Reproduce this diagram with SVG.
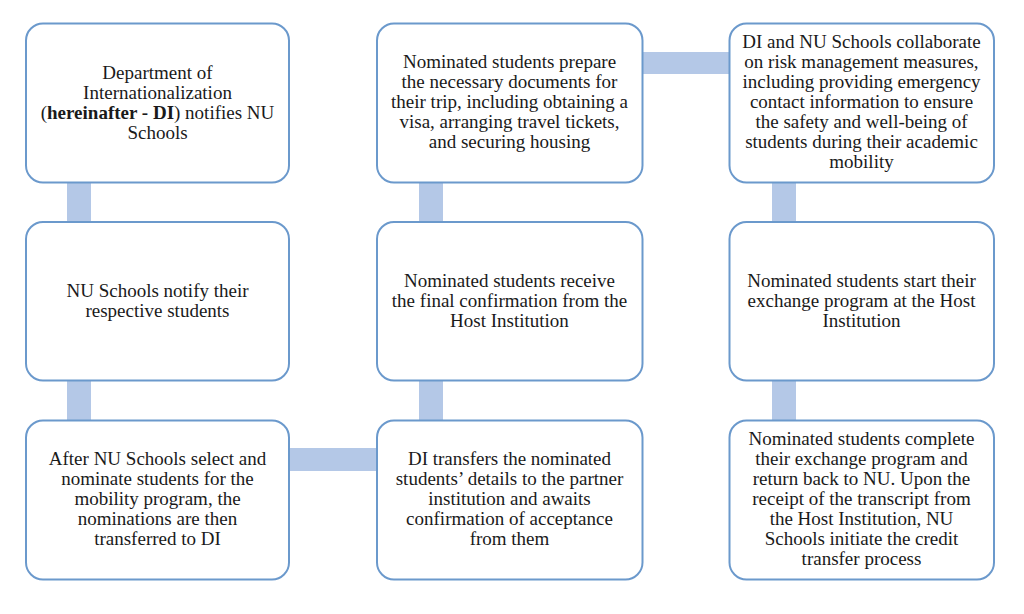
<svg xmlns="http://www.w3.org/2000/svg" width="1024" height="614" viewBox="0 0 1024 614">
<style>
.box{fill:#ffffff;stroke:#6b99cc;stroke-width:2}
.bar{fill:#b4c8e7}
text{font-family:"Liberation Serif","Times New Roman",serif;font-size:19px;fill:#1a1a1a;text-anchor:middle}
</style>
<rect width="1024" height="614" fill="#ffffff"/>
<g id="connectors">
<rect class="bar" x="67" y="182" width="24" height="40"/>
<rect class="bar" x="67" y="380" width="24" height="41"/>
<rect class="bar" x="289" y="448" width="88" height="23"/>
<rect class="bar" x="419" y="380" width="24" height="41"/>
<rect class="bar" x="419" y="182" width="24" height="40"/>
<rect class="bar" x="642" y="52" width="87" height="22"/>
<rect class="bar" x="772" y="182" width="24" height="40"/>
<rect class="bar" x="772" y="380" width="24" height="41"/>
</g>
<g id="n1">
<rect class="box" x="26" y="23.5" width="263" height="159" rx="17"/>
<text x="157.5" y="79">Department of</text>
<text x="157.5" y="99">Internationalization</text>
<text x="157.5" y="119">(<tspan font-weight="bold">hereinafter - DI</tspan>) notifies NU</text>
<text x="157.5" y="139">Schools</text>
</g>
<g id="n2">
<rect class="box" x="26" y="222" width="263" height="158.5" rx="17"/>
<text x="157.5" y="297">NU Schools notify their</text>
<text x="157.5" y="317">respective students</text>
</g>
<g id="n3">
<rect class="box" x="26" y="420.5" width="263" height="159" rx="17"/>
<text x="157.5" y="465">After NU Schools select and</text>
<text x="157.5" y="485">nominate students for the</text>
<text x="157.5" y="505">mobility program, the</text>
<text x="157.5" y="525">nominations are then</text>
<text x="157.5" y="545">transferred to DI</text>
</g>
<g id="n4">
<rect class="box" x="377" y="420.5" width="265.5" height="159" rx="17"/>
<text x="509.5" y="465">DI transfers the nominated</text>
<text x="509.5" y="485">students’ details to the partner</text>
<text x="509.5" y="505">institution and awaits</text>
<text x="509.5" y="525">confirmation of acceptance</text>
<text x="509.5" y="545">from them</text>
</g>
<g id="n5">
<rect class="box" x="377" y="222" width="265.5" height="158.5" rx="17"/>
<text x="509.5" y="287">Nominated students receive</text>
<text x="509.5" y="307">the final confirmation from the</text>
<text x="509.5" y="327">Host Institution</text>
</g>
<g id="n6">
<rect class="box" x="377" y="23.5" width="265.5" height="159" rx="17"/>
<text x="509.5" y="68">Nominated students prepare</text>
<text x="509.5" y="88">the necessary documents for</text>
<text x="509.5" y="108">their trip, including obtaining a</text>
<text x="509.5" y="128">visa, arranging travel tickets,</text>
<text x="509.5" y="148">and securing housing</text>
</g>
<g id="n7">
<rect class="box" x="729.5" y="23.5" width="264.5" height="159" rx="17"/>
<text x="861.5" y="48">DI and NU Schools collaborate</text>
<text x="861.5" y="68">on risk management measures,</text>
<text x="861.5" y="88">including providing emergency</text>
<text x="861.5" y="108">contact information to ensure</text>
<text x="861.5" y="128">the safety and well-being of</text>
<text x="861.5" y="148">students during their academic</text>
<text x="861.5" y="168">mobility</text>
</g>
<g id="n8">
<rect class="box" x="729.5" y="222" width="264.5" height="158.5" rx="17"/>
<text x="861.5" y="287">Nominated students start their</text>
<text x="861.5" y="307">exchange program at the Host</text>
<text x="861.5" y="327">Institution</text>
</g>
<g id="n9">
<rect class="box" x="729.5" y="420.5" width="264.5" height="159" rx="17"/>
<text x="861.5" y="445">Nominated students complete</text>
<text x="861.5" y="465">their exchange program and</text>
<text x="861.5" y="485">return back to NU. Upon the</text>
<text x="861.5" y="505">receipt of the transcript from</text>
<text x="861.5" y="525">the Host Institution, NU</text>
<text x="861.5" y="545">Schools initiate the credit</text>
<text x="861.5" y="565">transfer process</text>
</g>
</svg>
